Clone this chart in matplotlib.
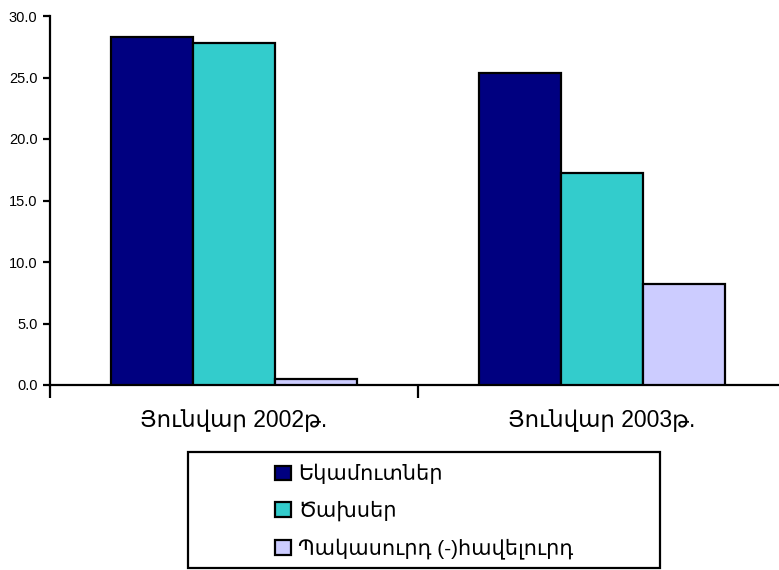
import matplotlib
matplotlib.use("Agg")
import matplotlib.pyplot as plt
from matplotlib.patches import Rectangle
import numpy as np

categories = ["Յունվար 2002թ.", "Յունվար 2003թ."]
series_names = ["Եկամուտներ", "Ծախսեր", "Պակասուրդ (-)հավելուրդ"]
income = [28.3, 25.4]
expenses = [27.8, 17.2]
deficit = [0.5, 8.2]
yticks = [0, 5, 10, 15, 20, 25, 30]
ytick_labels = ["0.0", "5.0", "10.0", "15.0", "20.0", "25.0", "30.0"]

colors = ["#000080", "#33CCCC", "#CCCCFF"]
fam = ["Liberation Sans", "DejaVu Sans"]
plt.rcParams["font.family"] = fam

fig = plt.figure(figsize=(7.79, 5.70), dpi=100)
ax = fig.add_axes([50/779, 185/570, 736/779, 369/570])

x = np.arange(len(categories))
w = 1/4.5
for i, (vals, name) in enumerate(zip([income, expenses, deficit], series_names)):
    ax.bar(x + (i - 1) * w, vals, width=w, color=colors[i], edgecolor="black",
           linewidth=1.6, label=name, zorder=3)

ax.set_xlim(-0.5, 1.5)
ax.set_ylim(0, 30)
ax.set_yticks(yticks)
ax.set_yticklabels(ytick_labels, fontsize=10.5)
ax.tick_params(axis="y", direction="out", length=5, width=1.6, pad=4)

ax.set_xticks(x)
ax.set_xticklabels(categories, fontsize=16.5)
ax.tick_params(axis="x", which="major", length=0, pad=17)
ax.set_xticks([-0.5, 0.5, 1.5], minor=True)
ax.tick_params(axis="x", which="minor", direction="out", length=9, width=1.6)

for s in ["top", "right"]:
    ax.spines[s].set_visible(False)
for s in ["left", "bottom"]:
    ax.spines[s].set_linewidth(1.6)

# legend frame
fig.patches.append(Rectangle((188/779, 2/570), 472/779, 116/570, transform=fig.transFigure,
                             fill=False, edgecolor="black", linewidth=1.6))
leg = fig.legend(loc="upper left", bbox_to_anchor=(275/779, 1 - 464/570), frameon=False,
                 fontsize=15, handlelength=0.77, handleheight=0.72, handletextpad=0.33,
                 labelspacing=0.8, borderaxespad=0, borderpad=0)
for p in leg.get_patches():
    p.set_linewidth(1.6)

fig.savefig("out.png", dpi=100)
